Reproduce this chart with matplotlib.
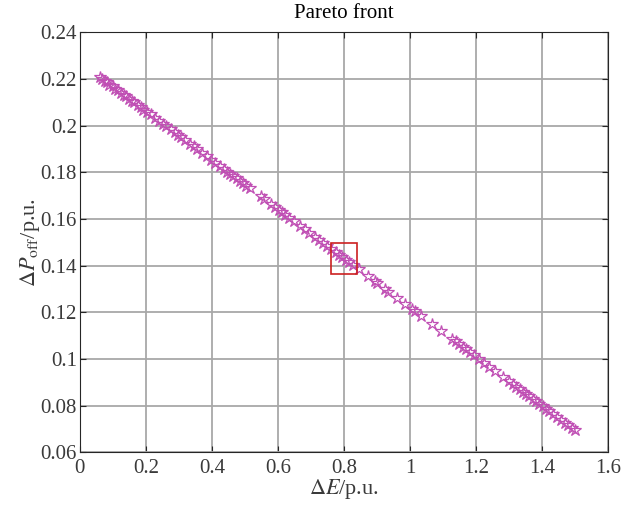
#!/usr/bin/env python3

import matplotlib
matplotlib.use('Agg')
import matplotlib.pyplot as plt
from matplotlib.patches import Rectangle
from matplotlib.ticker import FuncFormatter

# Pareto front points (Delta E, Delta P_off)
delta_e = [0.061, 0.068, 0.075, 0.082, 0.090, 0.100, 0.108, 0.115, 0.125, 0.133,
           0.140, 0.150, 0.158, 0.165, 0.175, 0.185, 0.193, 0.205, 0.215, 0.228,
           0.240, 0.252, 0.262, 0.275, 0.288, 0.298, 0.308, 0.320, 0.335, 0.345,
           0.355, 0.370, 0.385, 0.398, 0.410, 0.425, 0.438, 0.447, 0.456, 0.465,
           0.475, 0.485, 0.495, 0.505, 0.515, 0.548, 0.558, 0.580, 0.592, 0.603,
           0.612, 0.622, 0.635, 0.648, 0.668, 0.682, 0.695, 0.712, 0.725, 0.738,
           0.750, 0.762, 0.775, 0.785, 0.795, 0.805, 0.815, 0.828, 0.845, 0.872,
           0.893, 0.900, 0.925, 0.935, 0.960, 0.985, 1.005, 1.015, 1.035, 1.068,
           1.095, 1.128, 1.138, 1.148, 1.160, 1.170, 1.182, 1.195, 1.208, 1.225,
           1.240, 1.258, 1.282, 1.300, 1.312, 1.322, 1.332, 1.342, 1.352, 1.362,
           1.372, 1.382, 1.392, 1.402, 1.412, 1.422, 1.432, 1.445, 1.458, 1.470,
           1.480, 1.490, 1.500]
delta_p = [0.2210, 0.2202, 0.2190, 0.2188, 0.2175, 0.2169, 0.2156, 0.2153, 0.2142, 0.2130,
           0.2127, 0.2116, 0.2104, 0.2100, 0.2090, 0.2079, 0.2066, 0.2058, 0.2048, 0.2034,
           0.2021, 0.2009, 0.1998, 0.1984, 0.1971, 0.1960, 0.1950, 0.1937, 0.1921, 0.1911,
           0.1900, 0.1884, 0.1869, 0.1855, 0.1842, 0.1827, 0.1813, 0.1803, 0.1794, 0.1784,
           0.1774, 0.1763, 0.1753, 0.1742, 0.1732, 0.1697, 0.1686, 0.1663, 0.1651, 0.1639,
           0.1630, 0.1619, 0.1605, 0.1592, 0.1571, 0.1556, 0.1542, 0.1524, 0.1511, 0.1497,
           0.1484, 0.1472, 0.1458, 0.1447, 0.1437, 0.1426, 0.1416, 0.1402, 0.1384, 0.1356,
           0.1334, 0.1326, 0.1300, 0.1289, 0.1263, 0.1237, 0.1216, 0.1205, 0.1184, 0.1149,
           0.1121, 0.1086, 0.1076, 0.1065, 0.1053, 0.1042, 0.1029, 0.1016, 0.1002, 0.0984,
           0.0968, 0.0949, 0.0924, 0.0905, 0.0892, 0.0882, 0.0871, 0.0861, 0.0850, 0.0840,
           0.0829, 0.0819, 0.0808, 0.0798, 0.0787, 0.0777, 0.0766, 0.0752, 0.0739, 0.0726,
           0.0716, 0.0705, 0.0695]

# chosen compromise point (red box)
chosen_e = 0.80
chosen_p = 0.1432
box_w = 0.08
box_h = 0.0134

x_ticks = [0, 0.2, 0.4, 0.6, 0.8, 1.0, 1.2, 1.4, 1.6]
y_ticks = [0.06, 0.08, 0.10, 0.12, 0.14, 0.16, 0.18, 0.20, 0.22, 0.24]

plt.rcParams['font.family'] = ['Liberation Serif', 'DejaVu Serif']
plt.rcParams['mathtext.fontset'] = 'stix'

fig = plt.figure(figsize=(6.23, 5.13), dpi=100)
ax = fig.add_axes([0.128, 0.118, 0.848, 0.819])

ax.plot(delta_e, delta_p, linestyle='none', marker='*', markersize=9,
        markerfacecolor='none', markeredgecolor='#c04fb4', markeredgewidth=0.9,
        zorder=3)

ax.add_patch(Rectangle((chosen_e - box_w / 2, chosen_p - box_h / 2), box_w, box_h,
                       fill=False, edgecolor='#cc2020', linewidth=1.2, zorder=4))

ax.set_xlim(0, 1.6)
ax.set_ylim(0.06, 0.24)
ax.set_xticks(x_ticks)
ax.set_yticks(y_ticks)
fmt = FuncFormatter(lambda v, pos: '%g' % round(v, 4))
ax.xaxis.set_major_formatter(fmt)
ax.yaxis.set_major_formatter(fmt)
ax.tick_params(direction='in', length=4, width=0.8, colors='#262626',
               top=True, right=True, labelsize=15)
ax.tick_params(axis='both', labelcolor='#3a3a3a')
ax.tick_params(axis='x', pad=5)
ax.tick_params(axis='y', pad=2)

ax.grid(True, color='#a8a8a8', linewidth=1.3)
ax.set_axisbelow(True)
for s in ax.spines.values():
    s.set_color('#262626')
    s.set_linewidth(0.8)

ax.set_title('Pareto front', fontsize=15, pad=10)
ax.set_xlabel(r'$\Delta\mathit{E}$/p.u.', fontsize=16, labelpad=-1, color='#3a3a3a')
ax.set_ylabel(r'$\Delta\mathit{P}_{\mathrm{off}}$/p.u.', fontsize=16, labelpad=-1,
              color='#3a3a3a')

fig.savefig('out.png', dpi=100)
